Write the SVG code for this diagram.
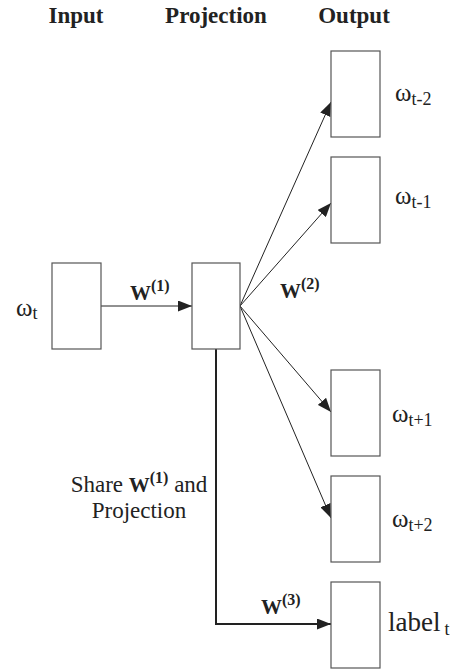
<svg xmlns="http://www.w3.org/2000/svg" width="457" height="671" viewBox="0 0 457 671" font-family="'Liberation Serif', 'Times New Roman', Times, serif">
<style>
text{font-family:'Liberation Serif','Times New Roman',Times,serif}
.box{fill:#fff;stroke:#555;stroke-width:1.2}
.hdr{font-weight:bold;font-size:23px;fill:#222}
.t{font-size:23px;fill:#222}
.om{font-size:25px;fill:#222}
.sub{font-size:18px}
.w{font-weight:bold;font-size:21px;fill:#222}
.sup{font-size:16px}
.c{fill:none;stroke:#222;stroke-width:1}
.c2{fill:none;stroke:#222;stroke-width:2}
</style>
<defs>
<marker id="ah" markerUnits="userSpaceOnUse" markerWidth="15" markerHeight="11" refX="14" refY="5.5" orient="auto">
<path d="M0,0 L14,5.5 L0,11 Z" fill="#222"/>
</marker>
</defs>
<g id="headers">
<text class="hdr" x="76" y="23" text-anchor="middle">Input</text>
<text class="hdr" x="216" y="23" text-anchor="middle">Projection</text>
<text class="hdr" x="354" y="23" text-anchor="middle">Output</text>
</g>
<g id="connectors">
<line class="c" x1="101" y1="306" x2="192" y2="306" marker-end="url(#ah)"/>
<line class="c" x1="240" y1="306" x2="331" y2="102" marker-end="url(#ah)"/>
<line class="c" x1="240" y1="306" x2="331" y2="203" marker-end="url(#ah)"/>
<line class="c" x1="240" y1="306" x2="331" y2="412" marker-end="url(#ah)"/>
<line class="c" x1="240" y1="306" x2="331" y2="518" marker-end="url(#ah)"/>
<path class="c2" d="M216,349 V624 H331" marker-end="url(#ah)"/>
<text class="w" x="130" y="300">W<tspan class="sup" dy="-9">(1)</tspan></text>
<text class="w" x="280" y="298">W<tspan class="sup" dy="-9">(2)</tspan></text>
<text class="w" x="261" y="614">W<tspan class="sup" dy="-9">(3)</tspan></text>
<text class="t" x="139" y="492" text-anchor="middle">Share <tspan class="w">W</tspan><tspan class="w sup" dy="-9">(1)</tspan><tspan dy="9"> and</tspan></text>
<text class="t" x="139" y="518" text-anchor="middle">Projection</text>
</g>
<g id="input">
<rect class="box" x="52" y="263" width="49" height="86"/>
<text class="om" x="16" y="316">ω<tspan class="sub" dy="3">t</tspan></text>
</g>
<g id="projection">
<rect class="box" x="192" y="263" width="48" height="86"/>
</g>
<g id="out-tm2">
<rect class="box" x="331" y="51" width="49" height="86"/>
<text class="om" x="395" y="101">ω<tspan class="sub" dy="4">t-2</tspan></text>
</g>
<g id="out-tm1">
<rect class="box" x="331" y="157" width="49" height="86"/>
<text class="om" x="395" y="204">ω<tspan class="sub" dy="4">t-1</tspan></text>
</g>
<g id="out-tp1">
<rect class="box" x="331" y="370" width="49" height="86"/>
<text class="om" x="392" y="422">ω<tspan class="sub" dy="4">t+1</tspan></text>
</g>
<g id="out-tp2">
<rect class="box" x="331" y="476" width="49" height="86"/>
<text class="om" x="392" y="527">ω<tspan class="sub" dy="4">t+2</tspan></text>
</g>
<g id="label">
<rect class="box" x="331" y="582" width="49" height="86"/>
<text class="om" x="388" y="631" style="font-size:27px">label<tspan class="sub" dx="4" dy="4">t</tspan></text>
</g>
</svg>
